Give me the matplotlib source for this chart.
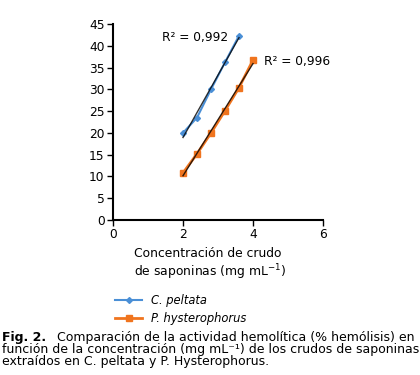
import numpy as np
import matplotlib.pyplot as plt

# data
x_pelt = [2.0, 2.4, 2.8, 3.2, 3.6]
y_pelt = [20.0, 23.5, 30.0, 36.2, 42.3]
x_hyst = [2.0, 2.4, 2.8, 3.2, 3.6, 4.0]
y_hyst = [10.8, 15.2, 20.0, 25.1, 30.4, 36.7]
r2_labels = ['R² = 0,992', 'R² = 0,996']
series_names = ['C. peltata', 'P. hysterophorus']

BLUE = '#4a8fd6'
ORANGE = '#f0741e'

plt.rcParams['font.family'] = 'DejaVu Sans'

fig = plt.figure(figsize=(4.2, 3.75), dpi=100)
ax = fig.add_axes([113 / 420, 1 - 220 / 375, 210 / 420, 196 / 375])

ax.plot(x_pelt, y_pelt, color=BLUE, marker='D', markersize=3, lw=1.5)
ax.plot(x_hyst, y_hyst, color=ORANGE, marker='s', markersize=5, lw=2)

# linear trendlines
for xs, ys in [(x_pelt, y_pelt), (x_hyst, y_hyst)]:
    k, b = np.polyfit(xs, ys, 1)
    xx = np.array([xs[0], xs[-1]])
    ax.plot(xx, k * xx + b, color='black', lw=1, alpha=0.8)

ax.text(3.3, 42.0, r2_labels[0], ha='right', va='center', fontsize=8.8)
ax.text(4.3, 36.4, r2_labels[1], ha='left', va='center', fontsize=8.8)

ax.set_xlim(0, 6)
ax.set_ylim(0, 45)
ax.set_xticks([0, 2, 4, 6])
ax.set_yticks(np.arange(0, 46, 5))
for s in ['top', 'right']:
    ax.spines[s].set_visible(False)
for s in ['left', 'bottom']:
    ax.spines[s].set_linewidth(1.5)
ax.tick_params(labelsize=8.8, length=4, width=1, pad=2)
ax.set_xlabel('Concentración de crudo\nde saponinas (mg mL$^{-1}$)',
              fontsize=8.9, ha='left', x=0.1, labelpad=4, linespacing=1.15)

leg = fig.legend(handles=ax.lines[:2], labels=series_names,
                 loc='upper left', bbox_to_anchor=(105 / 420, 1 - 284 / 375),
                 frameon=False, handlelength=2.3, handletextpad=0.8,
                 labelspacing=0.4, prop={'style': 'italic', 'size': 8.3})

cap = dict(fontsize=9, va='center')
fig.text(0.005, 1 - 337 / 375, 'Fig. 2.', fontweight='bold', **cap)
fig.text(57 / 420, 1 - 337 / 375,
         'Comparación de la actividad hemolítica (% hemólisis) en', **cap)
fig.text(0.005, 1 - 349.5 / 375,
         'función de la concentración (mg mL⁻¹) de los crudos de saponinas',
         **cap)
fig.text(0.005, 1 - 362 / 375,
         'extraídos en C. peltata y P. Hysterophorus.', **cap)

fig.savefig('out.png', dpi=100)
